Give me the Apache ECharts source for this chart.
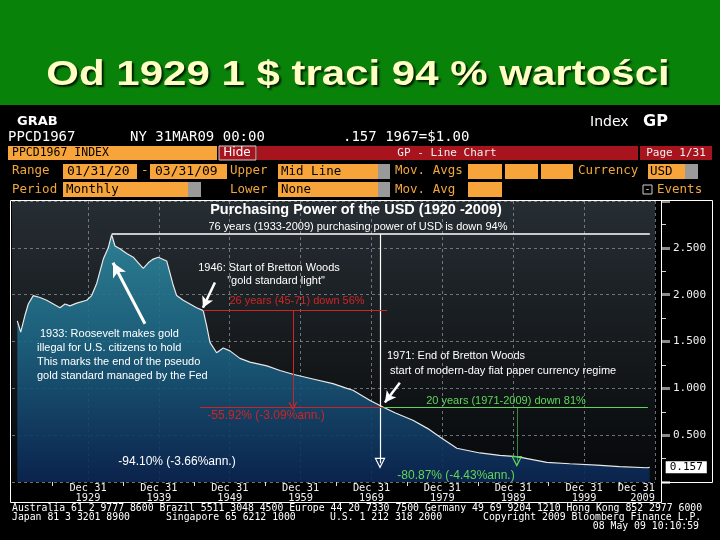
<!DOCTYPE html>
<html>
<head>
<meta charset="utf-8">
<script src="https://cdn.jsdelivr.net/npm/echarts@6/dist/echarts.min.js"></script>
<style>
  html, body { margin: 0; background: #000; }
  #chart { width: 720px; height: 540px; }
</style>
</head>
<body>
<div id="chart"></div>
<script>
// Purchasing power of the USD, 1967 = $1.00
const years = [
  1920.03, 1920.51, 1921.11, 1921.58, 1922.28, 1923.23, 1924.17, 1925.11, 1926.05, 1926.76,
  1927.46, 1928.41, 1929.82, 1930.52, 1931.23, 1932.16, 1932.86, 1933.34, 1933.81, 1934.51,
  1935.46, 1936.39, 1937.09, 1937.80, 1938.50, 1939.21, 1939.92, 1941.10, 1941.57, 1942.03,
  1942.51, 1943.44, 1944.39, 1945.33, 1946.26, 1946.74, 1947.21, 1948.15, 1949.08, 1950.03,
  1951.44, 1952.85, 1955.25, 1957.09, 1958.91, 1961.73, 1964.56, 1966.53, 1967.38, 1969.80,
  1971.61, 1973.30, 1975.84, 1977.95, 1979.65, 1982.04, 1985.29, 1988.10, 1990.51, 1994.74,
  1997.98, 2001.79, 2005.00, 2008.84, 2009.25
]
const ppValues = [
  1.72, 1.60, 1.78, 1.90, 1.99, 1.97, 1.94, 1.90, 1.86, 1.90,
  1.88, 1.91, 1.94, 1.99, 2.12, 2.38, 2.50, 2.64, 2.52, 2.49,
  2.44, 2.40, 2.34, 2.28, 2.34, 2.38, 2.40, 2.36, 2.23, 2.10,
  1.99, 1.94, 1.90, 1.86, 1.83, 1.67, 1.49, 1.38, 1.43, 1.40,
  1.32, 1.28, 1.24, 1.19, 1.15, 1.10, 1.05, 1.00, 0.98, 0.87,
  0.80, 0.74, 0.66, 0.57, 0.48, 0.36, 0.31, 0.285, 0.27, 0.21,
  0.195, 0.18, 0.165, 0.152, 0.157
]

const xTickYears = [1930, 1940, 1950, 1960, 1970, 1980, 1990, 2000, 2010]
const xTickLabels = ['Dec 31\n1929', 'Dec 31\n1939', 'Dec 31\n1949', 'Dec 31\n1959', 'Dec 31\n1969',
  'Dec 31\n1979', 'Dec 31\n1989', 'Dec 31\n1999', 'Dec 31\n2009']
const xMinorTickYears = [1925, 1935, 1945, 1955, 1965, 1975, 1985, 1995, 2005]

// annotation segments, [year, value] pairs
const spanLine76 = [[1933.34, 2.65], [2009.27, 2.65]]
const drop76 = [[1971.2, 2.65], [1971.2, 0.20]]
const redTop = [[1946.26, 1.83], [1972.2, 1.83]]
const redDrop = [[1958.9, 1.83], [1958.9, 0.81]]
const redBottom = [[1945.8, 0.80], [1971.6, 0.80]]
const greenTop = [[1971.6, 0.80], [2009.0, 0.80]]
const greenDrop = [[1990.5, 0.80], [1990.5, 0.22]]
const arrow1933 = [[1938.04, 1.69], [1933.53, 2.34]]
const arrow1946 = [[1947.91, 2.13], [1946.22, 1.86]]
const arrow1971 = [[1974.0, 1.06], [1971.89, 0.85]]

const AMBER = '#f0a63c'
const BOX = '#f7a43a'
const GREY = '#9a9a9a'
const RED = '#d02424'
const GREEN = '#5fd65a'
const MONO = '"DejaVu Sans Mono"'
const SANS = '"Liberation Sans"'

const hollowTri = 'path://M5,0 L10,10 L0,10 Z M5,2.6 L1.7,8.8 L8.3,8.8 Z'
const chevron = 'path://M0,10 L5,0 L10,10 L8.4,10 L5,3.2 L1.6,10 Z'

function seg(pts, color, width, endSymbol, endSize) {
  return [
    { coord: pts[0], symbol: 'none', lineStyle: { color: color, width: width, type: 'solid' } },
    { coord: pts[1], symbol: endSymbol || 'none', symbolSize: endSize || 10 }
  ]
}

function rect(x, y, w, h, fill, stroke) {
  return { type: 'rect', z: 100, shape: { x: x, y: y, width: w, height: h },
    style: { fill: fill || 'none', stroke: stroke || null, lineWidth: 1 } }
}

function text(x, y, str, fill, font, align) {
  return { type: 'text', z: 101, x: x, y: y,
    style: { text: str, fill: fill, font: font, align: align || 'left', verticalAlign: 'middle' } }
}

const ROW = '12.5px ' + MONO
const header = [
  rect(0, 0, 720, 105, '#088208'),
  { type: 'text', z: 101, x: 358, y: 75, scaleX: 1.2, style: {
    text: 'Od 1929 1 $ traci 94 % wartości', fill: '#ffffc4', font: 'bold 35px ' + SANS,
    align: 'center', verticalAlign: 'middle',
    textShadowColor: 'rgba(0,0,0,0.8)', textShadowOffsetX: 2, textShadowOffsetY: 2, textShadowBlur: 2,
    shadowColor: 'rgba(0,0,0,0.8)', shadowOffsetX: 2, shadowOffsetY: 2, shadowBlur: 2 } },

  text(17, 122, 'GRAB', '#fff', 'bold 13px "DejaVu Sans"'),
  text(590, 122, 'Index', '#fff', '14px "DejaVu Sans"'),
  text(643, 122, 'GP', '#fff', 'bold 16px "DejaVu Sans"'),
  text(8, 137, 'PPCD1967', '#fff', '14px ' + MONO),
  text(130, 137, 'NY 31MAR09 00:00', '#fff', '14px ' + MONO),
  text(343, 137, '.157 1967=$1.00', '#fff', '14px ' + MONO),

  rect(8, 146, 209, 14, BOX),
  text(12, 153, 'PPCD1967 INDEX', '#000', '11.5px ' + MONO),
  rect(219, 146, 37, 14, '#a8141e', '#cfcfcf'),
  text(237, 153, 'Hide', '#fff', '12px "DejaVu Sans"', 'center'),
  rect(257, 146, 381, 14, '#a8141e'),
  text(447, 153, 'GP - Line Chart', '#f0f0f0', '11px ' + MONO, 'center'),
  rect(640, 146, 72, 14, '#a8141e'),
  text(676, 153, 'Page 1/31', '#f0f0f0', '11px ' + MONO, 'center'),

  text(12, 171, 'Range', AMBER, ROW),
  rect(63, 164, 74, 15, BOX), text(67, 171.5, '01/31/20', '#000', '13px ' + MONO),
  text(141, 171, '-', AMBER, ROW),
  rect(150, 164, 77, 15, BOX), text(155, 171.5, '03/31/09', '#000', '13px ' + MONO),
  text(230, 171, 'Upper', AMBER, ROW),
  rect(278, 164, 100, 15, BOX), rect(378, 164, 12, 15, GREY),
  text(281, 171.5, 'Mid Line', '#000', ROW),
  text(395, 171, 'Mov. Avgs', AMBER, ROW),
  rect(468, 164, 34, 15, BOX), rect(505, 164, 33, 15, BOX), rect(541, 164, 32, 15, BOX),
  text(578, 171, 'Currency', AMBER, ROW),
  rect(648, 164, 37, 15, BOX), rect(685, 164, 13, 15, GREY),
  text(650, 171.5, 'USD', '#000', ROW),

  text(12, 190, 'Period', AMBER, ROW),
  rect(63, 182, 125, 15, BOX), rect(188, 182, 13, 15, GREY),
  text(66, 190, 'Monthly', '#000', ROW),
  text(230, 190, 'Lower', AMBER, ROW),
  rect(278, 182, 100, 15, BOX), rect(378, 182, 12, 15, GREY),
  text(281, 190, 'None', '#000', ROW),
  text(395, 190, 'Mov. Avg', AMBER, ROW),
  rect(468, 182, 34, 15, BOX),
  rect(643, 185, 9, 9, 'none', '#cfcfcf'),
  text(647.5, 189, '-', '#cfcfcf', '10px ' + MONO, 'center'),
  text(657, 190, 'Events', AMBER, ROW),

  rect(10.5, 200.5, 651, 302, 'none', '#fff'),
  rect(661.5, 200.5, 51, 282, 'none', '#fff')
]

const F11 = '11px ' + SANS
const F12 = '12px ' + SANS
const notes = [
  text(356, 210, 'Purchasing Power of the USD (1920 -2009)', '#fff', 'bold 14.5px ' + SANS, 'center'),
  text(358, 227, '76 years (1933-2009) purchasing power of USD is down 94%', '#fff', F11, 'center'),
  text(269, 268, '1946: Start of Bretton Woods', '#fff', F11, 'center'),
  text(276, 281, '"gold standard light"', '#fff', F11, 'center'),
  text(297, 301, '26 years (45-71) down 56%', RED, F11, 'center'),
  text(40, 334, '1933: Roosevelt makes gold', '#fff', F11),
  text(37, 348, 'illegal for U.S. citizens to hold', '#fff', F11),
  text(37, 362, 'This marks the end of the pseudo', '#fff', F11),
  text(37, 376, 'gold standard managed by the Fed', '#fff', F11),
  text(387, 356, '1971: End of Bretton Woods', '#fff', F11),
  text(390, 371, 'start of modern-day fiat paper currency regime', '#fff', F11),
  text(506, 401, '20 years (1971-2009) down 81%', GREEN, F11, 'center'),
  text(266, 416, '-55.92% (-3.09%ann.)', RED, F12, 'center'),
  text(177, 462, '-94.10% (-3.66%ann.)', '#fff', F12, 'center'),
  text(456, 476, '-80.87% (-4.43%ann.)', GREEN, F12, 'center')
]

const FOOT = '9.8px ' + MONO
const footer = [
  text(12, 508, 'Australia 61 2 9777 8600 Brazil 5511 3048 4500 Europe 44 20 7330 7500 Germany 49 69 9204 1210 Hong Kong 852 2977 6000', '#fff', FOOT),
  text(12, 517, 'Japan 81 3 3201 8900', '#fff', FOOT),
  text(166, 517, 'Singapore 65 6212 1000', '#fff', FOOT),
  text(330, 517, 'U.S. 1 212 318 2000', '#fff', FOOT),
  text(483, 517, 'Copyright 2009 Bloomberg Finance L.P.', '#fff', FOOT),
  text(699, 526, '08 May 09 10:10:59', '#fff', FOOT, 'right')
]

const chart = echarts.init(document.getElementById('chart'))

chart.setOption({
  backgroundColor: '#000',
  animation: false,
  grid: {
    left: 12, right: 65, top: 201, bottom: 58, show: true, borderWidth: 0,
    backgroundColor: new echarts.graphic.LinearGradient(0, 0, 0, 1, [
      { offset: 0, color: '#262d33' },
      { offset: 0.55, color: '#15191c' },
      { offset: 1, color: '#06080a' }
    ])
  },
  xAxis: [
    {
      type: 'value', min: 1919.28, max: 2010,
      axisLine: { show: false },
      axisTick: { show: false, customValues: xTickYears },
      axisLabel: {
        customValues: xTickYears,
        formatter: v => xTickLabels[xTickYears.indexOf(Math.round(v))] || '',
        color: '#f2f2f2', fontFamily: 'DejaVu Sans Mono', fontSize: 10.3, lineHeight: 10.5,
        margin: 1, alignMaxLabel: 'right'
      },
      splitLine: { show: true, lineStyle: { color: '#8d9297', type: [3, 3], width: 1, opacity: 0.75 } }
    },
    {
      type: 'value', min: 1919.28, max: 2010, position: 'bottom',
      axisLine: { show: false },
      axisTick: { show: true, customValues: xMinorTickYears, length: 4, lineStyle: { color: '#dcdcdc' } },
      axisLabel: { show: false },
      splitLine: { show: false }
    }
  ],
  yAxis: {
    type: 'value', position: 'right', offset: 6, min: 0, max: 3, interval: 0.5,
    axisLine: { show: false },
    axisTick: { show: true, length: 9, lineStyle: { color: '#8c8c8c', width: 3 } },
    minorTick: { show: true, splitNumber: 2, length: 5, lineStyle: { color: '#d0d0d0' } },
    axisLabel: {
      formatter: v => (v <= 0 || v >= 3) ? '' : v.toFixed(3),
      color: '#f2f2f2', fontFamily: 'DejaVu Sans Mono', fontSize: 11, margin: 12
    },
    splitLine: { show: true, lineStyle: { color: '#8d9297', type: [3, 3], width: 1, opacity: 0.75 } }
  },
  series: [{
    type: 'line',
    data: years.map((y, i) => [y, ppValues[i]]),
    showSymbol: false,
    lineStyle: { color: '#e8e8e8', width: 1.2 },
    areaStyle: {
      opacity: 0.9,
      color: new echarts.graphic.LinearGradient(0, 0, 0, 1, [
        { offset: 0, color: '#2d879c' },
        { offset: 0.45, color: '#1c6382' },
        { offset: 1, color: '#0b2653' }
      ])
    },
    endLabel: {
      show: true, distance: 16,
      formatter: p => p.value[1].toFixed(3),
      color: '#000', backgroundColor: '#fff', padding: [1, 4, 0, 4],
      fontFamily: 'DejaVu Sans Mono', fontSize: 11
    },
    markLine: {
      silent: true, animation: false,
      symbol: ['none', 'none'],
      label: { show: false },
      lineStyle: { type: 'solid' },
      data: [
        seg(spanLine76, '#fff', 1.5),
        seg(drop76, '#fff', 1.2, hollowTri, [11, 11]),
        seg(redTop, RED, 1.2),
        seg(redDrop, RED, 1, chevron, [9, 8]),
        seg(redBottom, RED, 1.2),
        seg(greenTop, GREEN, 1.2),
        seg(greenDrop, GREEN, 0.6, hollowTri, [11, 11]),
        seg(arrow1933, '#fff', 3, 'arrow', [11, 14]),
        seg(arrow1946, '#fff', 2.5, 'arrow', [9, 11]),
        seg(arrow1971, '#fff', 2.5, 'arrow', [9, 11])
      ]
    }
  }],
  graphic: header.concat(notes, footer)
})
</script>
</body>
</html>
